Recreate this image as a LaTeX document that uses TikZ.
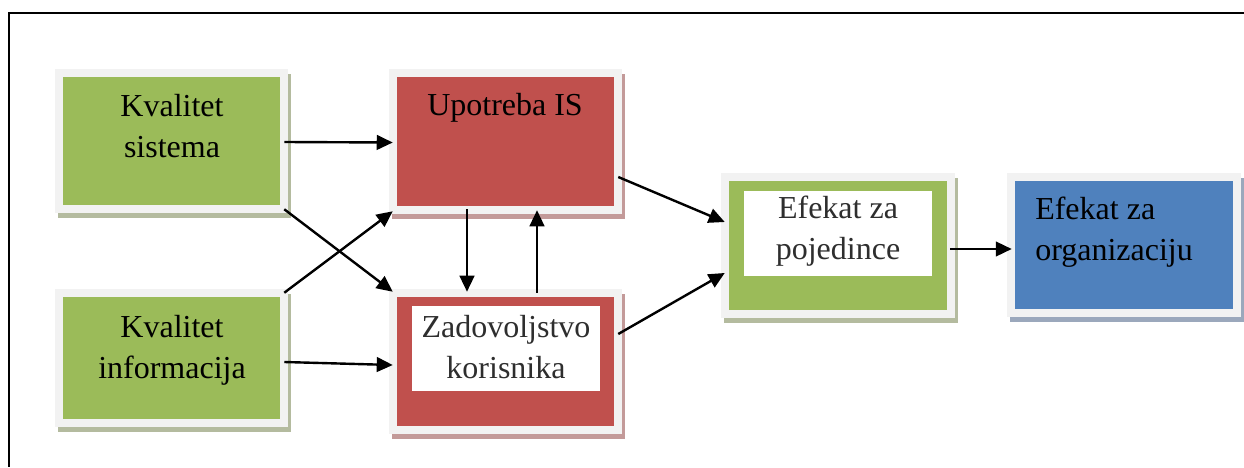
\documentclass[tikz,border=0pt]{standalone}
\usepackage{fontspec}
\setmainfont{Liberation Serif}
\usetikzlibrary{arrows.meta,shadows}
\definecolor{boxgreen}{HTML}{9BBB59}
\definecolor{boxred}{HTML}{C0504D}
\definecolor{boxblue}{HTML}{4F81BD}
\definecolor{rim}{HTML}{F2F2F2}
\definecolor{greenshade}{HTML}{B4BB9F}
\definecolor{redshade}{HTML}{C39A99}
\definecolor{blueshade}{HTML}{9BA8BC}
\definecolor{inktext}{HTML}{2E2E2E}
\begin{document}
\begin{tikzpicture}[x=0.75pt,y=-0.75pt,
  panel/.style n args={3}{fill=rim, draw=none, inner sep=0pt,
    minimum width=#1*0.75pt, minimum height=#2*0.75pt,
    general shadow={fill=#3, shadow xshift=2.25pt, shadow yshift=-3.75pt}},
  core/.style n args={3}{fill=#3, draw=none, inner sep=0pt,
    minimum width=#1*0.75pt-12pt, minimum height=#2*0.75pt-12pt},
  plate/.style={fill=white, draw=none, inner sep=0pt,
    minimum width=188*0.75pt, minimum height=85*0.75pt},
  label/.style={font=\fontsize{24}{30.5}\selectfont, align=center, inner sep=0pt},
  link/.style={line width=1.8pt, -{Triangle[length=12pt,width=11pt]}}]
\useasboundingbox (0,0) rectangle (1244,467);

% outer frame (top and left edges)
\draw[line width=1.5pt] (1244,13.5) -- (8.5,13.5) -- (8.5,467);

% panels
\node[panel={233}{144}{greenshade}] (ks) at (171.5,141) {};
\node[core={233}{144}{boxgreen}] (ksc) at (ks.center) {};
\node[panel={233}{138}{greenshade}] (ki) at (171.5,358) {};
\node[core={233}{138}{boxgreen}] (kic) at (ki.center) {};
\node[panel={233}{145}{redshade}] (up) at (505.5,141.5) {};
\node[core={233}{145}{boxred}] (upc) at (up.center) {};
\node[panel={233}{145}{redshade}] (zk) at (505.5,361.5) {};
\node[core={233}{145}{boxred}] (zkc) at (zk.center) {};
\node[plate] (zkw) at (506,348.5) {};
\node[panel={234}{145}{greenshade}] (ep) at (838,245.5) {};
\node[core={234}{145}{boxgreen}] (epc) at (ep.center) {};
\node[plate] (epw) at (838,233.5) {};
\node[panel={234}{144}{blueshade}] (eo) at (1124,245) {};
\node[core={234}{144}{boxblue}] (eoc) at (eo.center) {};

% texts (base anchor sits on the last line)
\node[label, anchor=base] (kst) at (172,157) {Kvalitet\\sistema};
\node[label, anchor=base] (kit) at (172,378) {Kvalitet\\informacija};
\node[label, anchor=base] (upt) at (505,115) {Upotreba IS};
\node[label, anchor=base, text=inktext] (zkt) at (506,378) {Zadovoljstvo\\korisnika};
\node[label, anchor=base, text=inktext] (ept) at (838,259) {Efekat za\\pojedince};
\node[label, anchor=base west, align=left] (eot) at (1035,260) {Efekat za\\organizaciju};

% connectors
\draw[link] ([shift={(-4,1)}]ks.east) -- ([shift={(4,1)}]up.west);
\draw[link] ([shift={(-4,-4)}]ks.south east) -- ([shift={(4,3)}]zk.north west);
\draw[link] ([shift={(-4,4)}]ki.north east) -- ([shift={(4,-3)}]up.south west);
\draw[link] ([shift={(-4,4)}]ki.east) -- ([shift={(4,3.5)}]zk.west);
\draw[link] ([shift={(-38.5,-5)}]up.south) -- ([shift={(-38.5,3)}]zk.north);
\draw[link] ([shift={(31.5,4)}]zk.north) -- ([shift={(31.5,-4)}]up.south);
\draw[link] ([shift={(-4,35.5)}]up.east) -- ([shift={(4,-23.5)}]ep.west);
\draw[link] ([shift={(-4,-27.5)}]zk.east) -- ([shift={(4,27.5)}]ep.west);
\draw[link] ([shift={(-5,3.5)}]ep.east) -- ([shift={(5,4)}]eo.west);
\end{tikzpicture}
\end{document}
